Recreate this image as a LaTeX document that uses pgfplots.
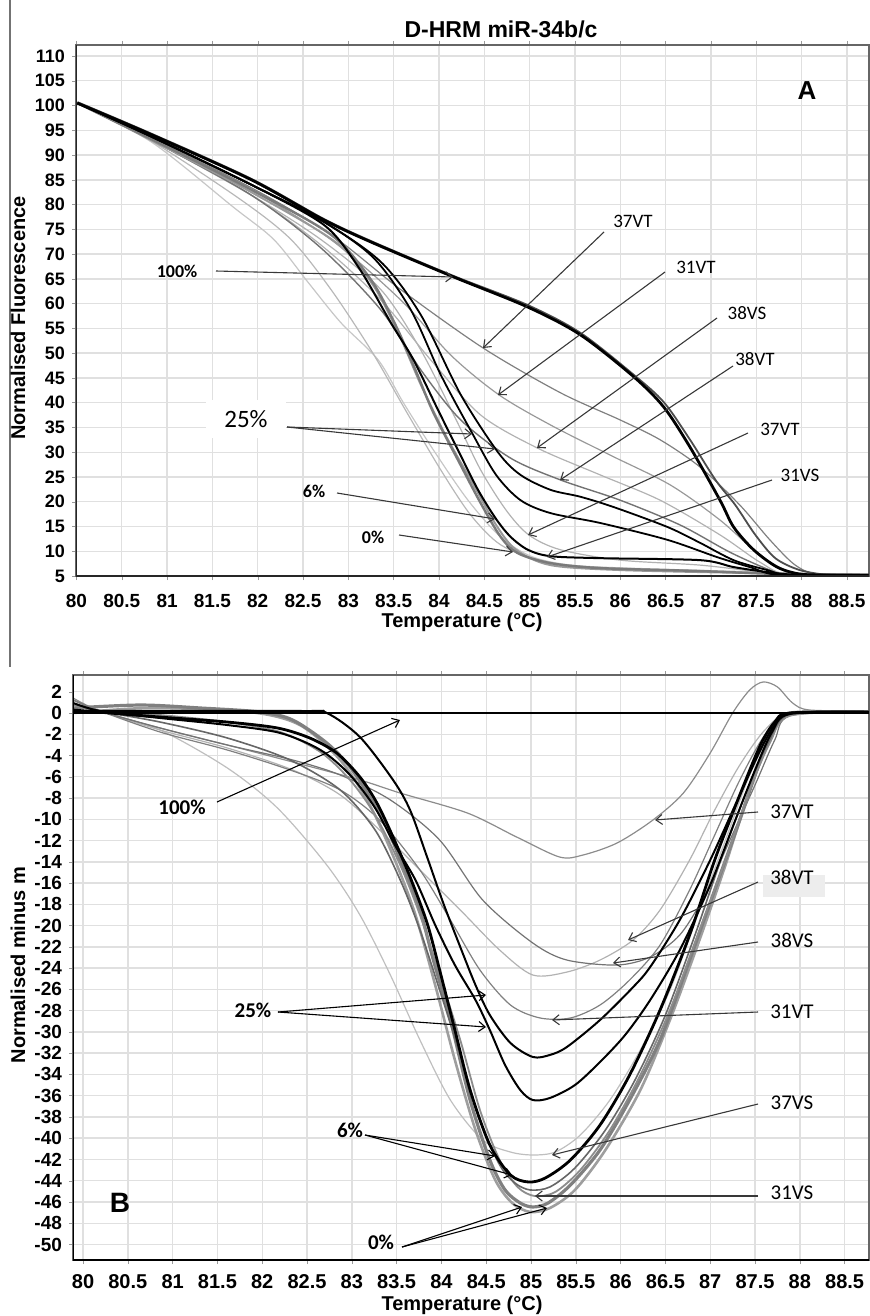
\documentclass[border=0pt]{standalone}
\usepackage{fontspec}
\setmainfont{Liberation Sans}
\newfontfamily\carl{Carlito}
\usepackage{pgfplots}
\pgfplotsset{compat=1.18}
\usetikzlibrary{arrows.meta}
\tikzset{arr/.style={draw=black!78, line width=0.55pt, -{Straight Barb[length=3.2pt,width=5pt]}}}
\pgfplotsset{
  hrm/.style={
    scale only axis, anchor=north west,
    grid=major, grid style={black!12, line width=0.7pt},
    axis line style={black!60, line width=0.6pt},
    major tick length=2pt, tick align=outside, tick style={black!40},
    /pgf/number format/assume math mode=true,
    clip=true,
    every axis plot/.append style={smooth, tension=0.5},
  },
}
\begin{document}
\begin{tikzpicture}
\useasboundingbox (0,0) rectangle (434.5pt,-658pt);
\draw[black!55, line width=0.9pt] (4.8pt,0) -- (4.8pt,-333.5pt);
\node[font=\bfseries\fontsize{11.5}{13}\selectfont] at (250.5pt,-14.5pt) {D-HRM miR-34b/c};

% ---------------- Panel A ----------------
\begin{axis}[hrm, at={(38pt,-22.5pt)}, width=396.5pt, height=265.5pt,
  xmin=79.995, xmax=88.744, ymin=5, ymax=112.23,
  xtick={80,80.5,81,81.5,82,82.5,83,83.5,84,84.5,85,85.5,86,86.5,87,87.5,88,88.5},
  ytick={5,10,15,20,25,30,35,40,45,50,55,60,65,70,75,80,85,90,95,100,105,110},
  xticklabel style={font=\bfseries\fontsize{9.5}{10}\selectfont, yshift=-3.5pt},
  yticklabel style={font=\bfseries\fontsize{9}{10}\selectfont},
]
\addplot[black!22, line width=0.6pt] coordinates {(80.01,100.5) (80.83,92.6) (81.73,79.5) (82.18,72.9) (82.56,64.2) (82.92,56.1) (83.33,48.6) (83.61,39.9) (83.94,30.4) (84.32,20.3) (84.68,12.9) (85.04,8.8) (85.56,7.0) (86.66,6.0) (88.74,5.2)};
\addplot[black!28, line width=0.6pt] coordinates {(80.01,100.5) (80.83,92.8) (81.82,80.9) (82.37,72.9) (82.81,62.8) (83.25,50.6) (83.63,38.5) (84.02,26.4) (84.35,17.3) (84.68,11.3) (85.12,8.2) (85.78,6.8) (88.74,5.2)};
\addplot[black!30, line width=0.6pt] coordinates {(80.01,100.5) (80.83,93.0) (81.93,81.9) (82.70,72.9) (83.36,62.8) (83.80,50.6) (84.19,36.5) (84.46,26.4) (84.74,18.3) (84.99,13.3) (85.34,10.3) (86.00,8.2) (86.88,7.2) (87.54,5.8) (87.87,5.2) (88.74,5.2)};
\addplot[black!30, line width=0.6pt] coordinates {(80.01,100.5) (80.83,93.0) (81.93,81.9) (82.70,71.8) (83.36,60.7) (83.91,48.6) (84.46,37.5) (85.09,30.8) (85.78,25.4) (86.44,20.3) (87.10,13.3) (87.54,7.8) (87.87,5.2) (88.74,5.2)};
\addplot[black!40, line width=0.6pt] coordinates {(80.01,100.5) (80.83,93.4) (81.93,83.0) (82.81,72.9) (83.58,60.7) (84.13,49.6) (84.66,41.6) (85.23,35.5) (85.89,29.4) (86.55,23.4) (87.10,16.3) (87.54,9.2) (87.87,5.8) (88.10,5.2) (88.74,5.2)};
\addplot[black!50, line width=0.6pt] coordinates {(80.01,100.5) (80.83,93.4) (81.93,83.4) (82.81,73.9) (83.58,62.8) (84.49,51.0) (85.34,42.0) (86.00,36.5) (86.44,32.5) (86.88,27.0) (87.32,19.3) (87.65,12.3) (87.93,7.2) (88.20,5.2) (88.74,5.2)};
\addplot[black!55, line width=0.7pt] coordinates {(80.01,100.5) (80.83,93.0) (81.93,81.9) (82.70,71.2) (83.36,58.7) (83.80,46.6) (84.24,36.5) (84.79,28.8) (85.34,24.4) (86.00,20.3) (86.66,15.3) (87.21,9.8) (87.65,6.2) (87.87,5.2) (88.74,5.2)};
\addplot[black!40, line width=1pt] coordinates {(80.01,100.5) (80.83,93.0) (81.93,82.5) (82.86,72.4) (83.27,63.8) (83.56,53.7) (83.80,43.6) (84.07,33.5) (84.35,24.4) (84.63,15.3) (84.85,10.3) (85.23,7.2) (86.00,6.2) (87.43,5.6) (88.74,5.2)};
\addplot[black!52, line width=1.2pt] coordinates {(80.01,100.5) (80.83,93.2) (81.93,83.0) (82.81,73.9) (83.25,64.8) (83.52,55.7) (83.74,46.6) (83.94,37.9) (84.21,28.4) (84.46,19.7) (84.68,12.9) (84.87,9.6) (85.23,7.6) (85.78,6.6) (86.88,6.0) (87.76,5.4) (88.74,5.2)};
\addplot[black, line width=0.9pt] coordinates {(80.01,100.5) (80.83,93.7) (81.93,84.0) (82.73,76.5) (83.28,69.2) (83.69,58.7) (84.02,45.6) (84.37,33.7) (84.63,25.4) (84.90,20.3) (85.23,17.7) (85.78,15.7) (86.52,12.3) (87.07,8.8) (87.43,6.8) (87.76,5.2) (88.74,5.2)};
\addplot[black, line width=0.9pt] coordinates {(80.01,100.5) (80.83,93.7) (81.93,84.0) (82.73,76.5) (83.36,68.4) (83.80,57.7) (84.24,41.6) (84.65,30.0) (84.90,25.4) (85.23,22.4) (85.56,21.0) (85.93,18.9) (86.52,14.9) (86.88,11.7) (87.25,8.2) (87.62,6.2) (87.87,5.2) (88.74,5.2)};
\addplot[black, line width=1pt] coordinates {(80.01,100.5) (80.83,93.7) (81.93,84.0) (82.73,75.9) (83.11,67.4) (83.47,56.1) (83.72,48.6) (83.99,38.5) (84.21,30.4) (84.43,22.4) (84.63,16.5) (84.79,12.9) (84.98,10.3) (85.23,9.0) (85.78,8.6) (86.88,8.2) (87.25,6.8) (87.62,5.8) (87.98,5.2) (88.74,5.2)};
\addplot[black!70, line width=0.9pt] coordinates {(80.01,100.7) (80.83,94.3) (81.93,85.2) (82.73,77.1) (83.28,72.4) (84.16,65.6) (84.98,59.7) (85.56,54.1) (86.15,45.6) (86.48,40.1) (86.77,32.5) (87.05,24.4) (87.27,19.3) (87.49,13.3) (87.71,8.6) (87.98,6.2) (88.31,5.2) (88.74,5.2)};
\addplot[black, line width=1.4pt] coordinates {(80.01,100.5) (80.83,94.1) (81.93,85.0) (82.73,76.9) (83.28,72.2) (84.16,65.4) (84.98,59.3) (85.56,53.7) (86.15,45.2) (86.48,39.1) (86.77,31.0) (87.10,20.3) (87.25,14.9) (87.47,10.3) (87.73,6.8) (87.98,5.4) (88.30,5.2) (88.74,5.2)};
\draw[black!85, line width=1pt] (rel axis cs:0,1) -- (rel axis cs:0,0) -- (rel axis cs:1,0);
\end{axis}

% ---------------- Panel B ----------------
\begin{axis}[hrm, at={(36.5pt,-337.5pt)}, width=398pt, height=292.5pt,
  xmin=79.888, xmax=88.772, ymin=-51.46, ymax=3.575,
  xtick={80,80.5,81,81.5,82,82.5,83,83.5,84,84.5,85,85.5,86,86.5,87,87.5,88,88.5},
  ytick={2,0,-2,-4,-6,-8,-10,-12,-14,-16,-18,-20,-22,-24,-26,-28,-30,-32,-34,-36,-38,-40,-42,-44,-46,-48,-50},
  xticklabel style={font=\bfseries\fontsize{10}{11}\selectfont, yshift=-1.5pt},
  yticklabel style={font=\bfseries\fontsize{9.5}{10}\selectfont},
]
\addplot[black!25, line width=0.6pt] coordinates {(79.89,1.22) (80.19,0.19) (80.86,-1.60) (81.61,-5.17) (82.17,-8.94) (82.72,-14.30) (83.09,-19.00) (83.43,-24.65) (83.76,-30.76) (84.10,-36.41) (84.46,-40.17) (84.77,-41.30) (85.02,-41.58) (85.27,-41.30) (85.55,-39.70) (85.88,-36.41) (86.22,-31.70) (86.55,-26.06) (86.88,-18.53) (87.17,-11.95) (87.44,-5.83) (87.67,-2.07) (87.89,-0.09) (88.77,0.09)};
\addplot[black!30, line width=0.6pt] coordinates {(79.89,1.22) (80.19,0.19) (80.86,-1.60) (81.61,-3.29) (82.34,-5.36) (82.87,-7.71) (83.31,-11.01) (83.76,-14.77) (84.21,-18.53) (84.65,-22.30) (85.02,-24.65) (85.40,-24.37) (85.77,-23.24) (86.14,-21.35) (86.44,-18.53) (86.77,-13.83) (87.05,-9.13) (87.33,-4.89) (87.61,-1.60) (87.89,-0.09) (88.77,0.19)};
\addplot[black!45, line width=0.6pt] coordinates {(79.89,1.41) (80.19,0.19) (80.86,-1.41) (81.61,-3.01) (82.34,-4.61) (83.09,-6.30) (83.54,-7.53) (84.29,-9.41) (84.84,-11.67) (85.32,-13.55) (85.58,-13.36) (85.96,-12.23) (86.36,-10.07) (86.70,-7.53) (87.00,-3.76) (87.25,0) (87.44,2.16) (87.59,2.92) (87.75,2.45) (87.92,0.94) (88.11,0.28) (88.77,0.19)};
\addplot[black!55, line width=0.6pt] coordinates {(79.89,1.22) (80.19,0.19) (80.86,-1.41) (81.61,-3.01) (82.34,-4.42) (82.87,-5.83) (83.43,-8.18) (83.98,-11.95) (84.46,-17.59) (85.02,-21.64) (85.40,-23.24) (85.96,-23.71) (86.33,-22.95) (86.66,-20.88) (86.94,-17.12) (87.22,-11.95) (87.50,-6.77) (87.72,-2.54) (87.89,-0.28) (88.77,0.19)};
\addplot[black!50, line width=0.6pt] coordinates {(79.89,1.22) (80.19,0.19) (80.86,-1.79) (81.61,-3.48) (82.31,-5.36) (82.87,-7.24) (83.31,-10.07) (83.76,-14.77) (84.10,-19.47) (84.43,-24.18) (84.77,-27.47) (85.10,-28.69) (85.44,-28.69) (85.77,-27.47) (86.10,-25.12) (86.44,-21.83) (86.77,-16.65) (87.05,-11.48) (87.33,-6.30) (87.61,-2.07) (87.89,-0.09) (88.77,0.19)};
\addplot[black!38, line width=1.3pt] coordinates {(79.89,0) (80.75,0.47) (81.86,0.09) (82.42,-1.13) (82.87,-4.42) (83.20,-8.65) (83.48,-13.83) (83.71,-19.00) (83.93,-25.59) (84.15,-32.64) (84.38,-39.23) (84.60,-43.93) (84.79,-46.10) (84.99,-46.94) (85.21,-46.57) (85.49,-44.87) (85.83,-41.11) (86.22,-35.47) (86.55,-28.88) (86.88,-21.35) (87.17,-14.30) (87.44,-7.24) (87.67,-2.54) (87.89,-0.19) (88.77,0.09)};
\addplot[black!50, line width=1.6pt] coordinates {(79.89,0.47) (80.64,0.75) (81.31,0.47) (81.98,0.09) (82.34,-0.66) (82.72,-2.82) (82.98,-5.08) (83.20,-7.90) (83.39,-10.72) (83.57,-14.49) (83.76,-18.53) (83.91,-23.24) (84.10,-28.88) (84.32,-36.41) (84.54,-42.05) (84.71,-44.87) (84.88,-46.10) (85.02,-46.47) (85.19,-46.10) (85.44,-44.40) (85.77,-41.11) (86.10,-36.41) (86.44,-30.76) (86.77,-23.24) (87.05,-16.65) (87.33,-10.07) (87.56,-4.42) (87.72,-1.41) (87.89,0) (88.77,0.09)};
\addplot[black!45, line width=0.9pt] coordinates {(79.89,0.75) (80.19,0.19) (80.86,-0.19) (81.61,-0.85) (82.20,-1.79) (82.65,-3.67) (82.98,-6.30) (83.26,-9.60) (83.54,-14.30) (83.76,-19.00) (83.98,-24.65) (84.21,-30.76) (84.43,-37.35) (84.65,-42.05) (84.85,-44.59) (85.04,-45.44) (85.27,-45.06) (85.55,-42.99) (85.88,-39.23) (86.22,-34.06) (86.55,-27.94) (86.88,-20.41) (87.17,-13.83) (87.44,-7.24) (87.67,-2.73) (87.89,-0.19) (88.77,0.09)};
\addplot[black!60, line width=0.8pt] coordinates {(79.89,0.94) (80.19,0.19) (80.86,-0.85) (81.61,-2.35) (82.31,-4.42) (82.87,-7.24) (83.26,-11.01) (83.54,-15.71) (83.76,-20.41) (83.98,-26.06) (84.21,-32.17) (84.43,-38.29) (84.65,-42.52) (84.82,-44.21) (84.99,-44.87) (85.21,-44.59) (85.49,-42.80) (85.83,-39.23) (86.16,-34.53) (86.50,-28.41) (86.83,-20.88) (87.11,-14.02) (87.39,-7.71) (87.65,-2.73) (87.89,-0.09) (88.77,0.09)};
\addplot[black, line width=1pt] coordinates {(79.89,0.19) (82.42,0.19) (82.72,0) (83.09,-2.26) (83.46,-6.30) (83.65,-9.13) (83.84,-13.55) (84.02,-17.87) (84.21,-22.01) (84.38,-25.59) (84.54,-28.41) (84.77,-31.04) (85.02,-32.36) (85.21,-32.17) (85.40,-31.42) (85.77,-28.88) (86.14,-25.78) (86.33,-23.89) (86.66,-19.47) (87.00,-13.83) (87.33,-7.71) (87.56,-3.48) (87.72,-1.13) (87.89,0) (88.77,0.09)};
\addplot[black, line width=1pt] coordinates {(79.89,0.94) (80.19,0.19) (80.86,-0.47) (81.61,-1.13) (82.20,-1.88) (82.65,-3.48) (82.98,-5.83) (83.26,-8.94) (83.48,-12.42) (83.71,-15.71) (83.93,-19.94) (84.15,-23.71) (84.38,-27.00) (84.54,-29.82) (84.71,-33.11) (84.88,-35.47) (85.02,-36.41) (85.21,-36.22) (85.49,-35.00) (85.77,-32.83) (86.05,-30.29) (86.33,-27.00) (86.66,-22.30) (87.00,-16.18) (87.28,-10.07) (87.50,-5.36) (87.69,-1.79) (87.89,-0.09) (88.77,0.09)};
\addplot[black, line width=1.4pt] coordinates {(79.89,0.28) (80.86,-0.38) (81.61,-0.85) (82.17,-1.41) (82.53,-2.35) (82.83,-3.76) (83.09,-6.02) (83.28,-8.47) (83.46,-11.67) (83.65,-15.43) (83.84,-19.76) (83.98,-24.18) (84.15,-29.82) (84.32,-35.47) (84.54,-40.64) (84.77,-43.46) (84.97,-44.12) (85.16,-43.74) (85.44,-42.05) (85.77,-38.76) (86.10,-34.06) (86.44,-27.94) (86.77,-20.88) (87.05,-13.83) (87.33,-7.71) (87.56,-3.01) (87.72,-0.85) (87.89,0) (88.77,0.09)};
\addplot[black, line width=1.4pt, sharp plot] coordinates {(79.89,0) (88.77,0)};
\draw[black, line width=1.2pt] (rel axis cs:0,1) -- (rel axis cs:0,0) -- (rel axis cs:1,0);
\end{axis}

% ---------------- axis titles ----------------
\node[font=\bfseries\fontsize{10}{12}\selectfont, rotate=90] at (9pt,-159pt) {Normalised Fluorescence};
\node[font=\bfseries\fontsize{10}{12}\selectfont] at (231pt,-311pt) {Temperature (\textdegree C)};
\node[font=\bfseries\fontsize{10}{12}\selectfont, rotate=90] at (9pt,-482.5pt) {Normalised minus m};
\node[font=\bfseries\fontsize{10}{12}\selectfont] at (231pt,-652.5pt) {Temperature (\textdegree C)};

% ---------------- annotations (pixel grid) ----------------
\begin{scope}[x=0.5pt, y=-0.5pt]
\node[font=\bfseries\fontsize{13}{14}\selectfont] at (807,91) {A};
\node[font=\bfseries\fontsize{14}{15}\selectfont] at (120,1203) {B};
% panel A labels
\node[font=\carl\bfseries\fontsize{9}{10}\selectfont] at (177,271) {100\%};
\draw[arr] (216,271) -- (453,277);
\node[fill=white, inner xsep=9pt, inner ysep=5pt, font=\carl\fontsize{12.5}{13}\selectfont] at (246,419) {25\%};
\draw[arr] (287,427) -- (472,434);
\draw[arr] (287,427) -- (495,449);
\node[font=\carl\bfseries\fontsize{9}{10}\selectfont] at (314,491) {6\%};
\draw[arr] (337,493) -- (495,519);
\node[font=\carl\bfseries\fontsize{9}{10}\selectfont] at (373,537) {0\%};
\draw[arr] (399,535) -- (513,552);
\node[font=\carl\fontsize{9.5}{10}\selectfont] at (633,221) {37VT};
\draw[arr] (604,232) -- (483,348);
\node[font=\carl\fontsize{9.5}{10}\selectfont] at (696,267) {31VT};
\draw[arr] (665,272) -- (498,395);
\node[font=\carl\fontsize{9.5}{10}\selectfont] at (747,313) {38VS};
\draw[arr] (717,318) -- (537,448);
\node[font=\carl\fontsize{9.5}{10}\selectfont] at (755,359) {38VT};
\draw[arr] (733,366) -- (560,480);
\node[font=\carl\fontsize{9.5}{10}\selectfont] at (780,429) {37VT};
\draw[arr] (748,433) -- (528,535);
\node[font=\carl\fontsize{9.5}{10}\selectfont] at (800,475) {31VS};
\draw[arr] (772,480) -- (547,557);
% panel B labels
\node[font=\carl\bfseries\fontsize{10.5}{11}\selectfont] at (182,807) {100\%};
\draw[arr, draw=black] (217,802) -- (400,720);
\node[font=\carl\bfseries\fontsize{10.5}{11}\selectfont] at (253,1010) {25\%};
\draw[arr, draw=black] (278,1012) -- (486,995);
\draw[arr, draw=black] (278,1012) -- (486,1027);
\node[font=\carl\bfseries\fontsize{10.5}{11}\selectfont] at (350,1130) {6\%};
\draw[arr, draw=black] (365,1135) -- (495,1156);
\draw[arr, draw=black] (365,1135) -- (512,1175);
\node[font=\carl\bfseries\fontsize{10.5}{11}\selectfont] at (381,1242) {0\%};
\draw[arr, draw=black] (402,1247) -- (522,1207);
\draw[arr, draw=black] (402,1247) -- (547,1208);
\fill[black!7] (763,875) rectangle (825,897);
\node[font=\carl\fontsize{10.5}{11}\selectfont] at (792,812) {37VT};
\draw[arr] (758,812) -- (655,820);
\node[font=\carl\fontsize{10.5}{11}\selectfont] at (792,877) {38VT};
\draw[arr] (758,882) -- (628,940);
\node[font=\carl\fontsize{10.5}{11}\selectfont] at (792,940) {38VS};
\draw[arr] (758,942) -- (613,963);
\node[font=\carl\fontsize{10.5}{11}\selectfont] at (792,1012) {31VT};
\draw[arr] (758,1012) -- (552,1020);
\node[font=\carl\fontsize{10.5}{11}\selectfont] at (792,1103) {37VS};
\draw[arr] (758,1104) -- (552,1155);
\node[font=\carl\fontsize{10.5}{11}\selectfont] at (792,1193) {31VS};
\draw[arr] (758,1196) -- (535,1196);
\end{scope}
\end{tikzpicture}
\end{document}
